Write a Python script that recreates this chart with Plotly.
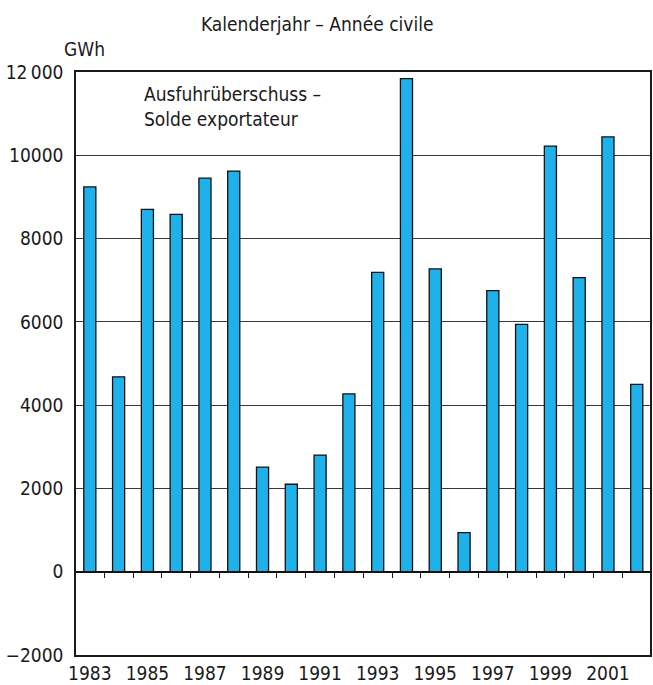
import plotly.graph_objects as go

# Jahr / année
years = list(range(1983, 2003))
# Ausfuhrüberschuss in GWh
export_surplus = [9240, 4680, 8700, 8580, 9450, 9620, 2510, 2100, 2800, 4270,
                  7190, 11840, 7270, 940, 6750, 5940, 10220, 7060, 10440, 4500]

y_ticks = [-2000, 0, 2000, 4000, 6000, 8000, 10000, 12000]
y_labels = ["\u22122000", "0", "2000", "4000", "6000", "8000", "10000", "12\u2009000"]
x_labels = [str(y) for y in years if y % 2 == 1]

FONT = "DejaVu Sans Condensed, sans-serif"

fig = go.Figure()
fig.add_trace(go.Bar(
    x=years, y=export_surplus,
    marker=dict(color="#1fb2ea", line=dict(color="#111111", width=1.3)),
    xaxis="x", yaxis="y",
))
# invisible trace to carry the tick marks on the zero line
fig.add_trace(go.Scatter(x=[years[0]], y=[0], mode="markers", marker=dict(opacity=0),
                         xaxis="x2", yaxis="y", showlegend=False, hoverinfo="skip"))

xr = [years[0] - 0.48, years[-1] + 0.46]
fig.update_layout(
    width=653, height=685,
    margin=dict(l=76, r=1, t=72, b=28),
    plot_bgcolor="white", paper_bgcolor="white",
    showlegend=False, bargap=0.58,
    font=dict(family=FONT, size=19, color="#1a1a1a"),
    xaxis=dict(range=xr, tickvals=[y for y in years if y % 2 == 1], ticktext=x_labels,
               ticks="", showgrid=False, zeroline=False,
               showline=True, linecolor="#1a1a1a", linewidth=1.5, mirror=True,
               tickfont=dict(size=19)),
    xaxis2=dict(range=xr, overlaying="x", anchor="free",
                position=2000 / 14000, tickvals=[y + 0.5 for y in years[:-1]],
                ticks="outside", ticklen=5, tickcolor="#1a1a1a", tickwidth=1,
                showticklabels=False, showgrid=False, zeroline=False, showline=False),
    yaxis=dict(range=[-2000, 12000], tickvals=y_ticks, ticktext=y_labels,
               ticks="", showgrid=True, gridcolor="#3b3535", gridwidth=1,
               zeroline=True, zerolinecolor="#111111", zerolinewidth=1.5,
               showline=True, linecolor="#1a1a1a", linewidth=1.5, mirror=True,
               ticklabelstandoff=7, tickfont=dict(size=19)),
)

fig.add_annotation(text="Kalenderjahr \u2013 Année civile", xref="paper", yref="paper",
                   x=0.42, y=1.0, yshift=48, showarrow=False, xanchor="center", yanchor="middle",
                   font=dict(size=19))
fig.add_annotation(text="GWh", xref="paper", yref="paper", x=-0.025, y=1.0, yshift=23,
                   showarrow=False, xanchor="left", yanchor="middle", font=dict(size=19))
fig.add_annotation(text="Ausfuhrüberschuss \u2013<br>Solde exportateur", xref="paper", yref="paper",
                   x=0.115, y=0.985, showarrow=False, xanchor="left", yanchor="top", align="left",
                   font=dict(size=19))

# page body has a default 8px margin; drop it so the figure fills the window
fig.write_html("out.html", config={"displayModeBar": False},
               post_script="document.body.style.margin='0';")
